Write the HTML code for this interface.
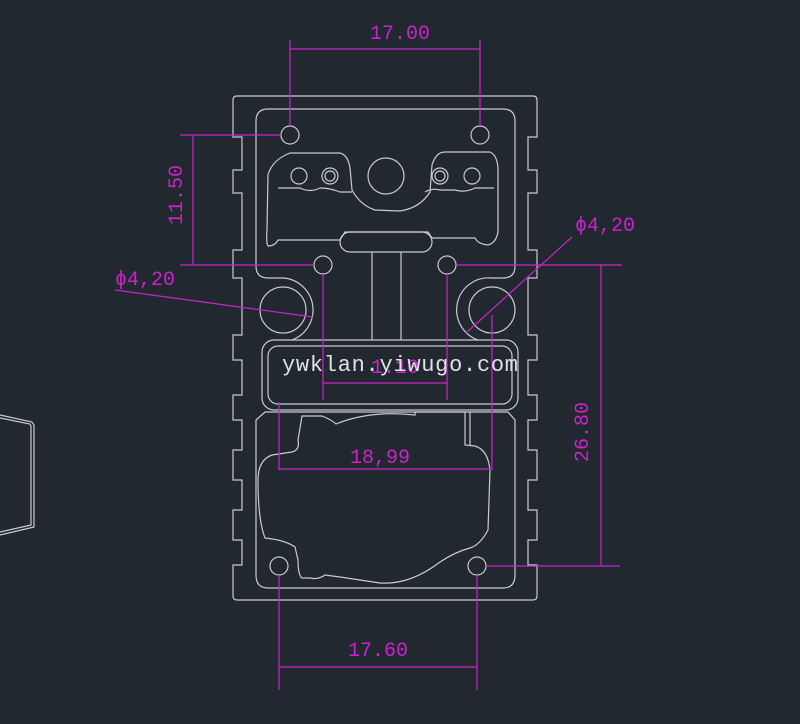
<!DOCTYPE html>
<html><head><meta charset="utf-8"><style>
html,body{margin:0;padding:0;background:#212830;}
svg{display:block}
text{font-family:"Liberation Mono","DejaVu Sans Mono",monospace;}
</style></head><body>
<svg width="800" height="724" viewBox="0 0 800 724" xmlns="http://www.w3.org/2000/svg">
<rect width="800" height="724" fill="#212830"/>
<g fill="none" stroke="#c8ccd0" stroke-width="1.2">
<path d="M0 415 L32 422 L34 425 L34 527 L0 535"/>
<path d="M0 418 L30 424 L31 426 L31 525 L0 532"/>
<path d="M237 96 L533 96 Q537 96 537 100 L537 137 L528 137 L528 170 L537 170 L537 193 L528 193 L528 250 L537 250 L537 278 L528 278 L528 335 L537 335 L537 360 L528 360 L528 395 L537 395 L537 420 L528 420 L528 450 L537 450 L537 480 L528 480 L528 510 L537 510 L537 540 L528 540 L528 565 L537 565 L537 596 Q537 600 533 600 L237 600 Q233 600 233 596 L233 565 L242 565 L242 540 L233 540 L233 510 L242 510 L242 480 L233 480 L233 450 L242 450 L242 420 L233 420 L233 395 L242 395 L242 360 L233 360 L233 335 L242 335 L242 278 L233 278 L233 250 L242 250 L242 193 L233 193 L233 170 L242 170 L242 137 L233 137 L233 100 Q233 96 237 96 Z"/>
<path d="M268 109 L503 109 Q515 109 515 121 L515 266 Q515 278 503 278 L492 278 A32 32 0 0 0 478 340 M292 340 A32 32 0 0 0 283 278 L268 278 Q256 278 256 266 L256 121 Q256 109 268 109"/>
<circle cx="290" cy="135" r="9"/><circle cx="480" cy="135" r="9"/>
<circle cx="323" cy="265" r="9"/><circle cx="447" cy="265" r="9"/>
<circle cx="279" cy="566" r="9"/><circle cx="477" cy="566" r="9"/>
<circle cx="283" cy="310" r="23"/><circle cx="492" cy="310" r="23"/>
<path d="M290 153 L340 153 Q348 155 350 168 L352 190 Q360 205 375 210 L400 211 Q420 208 430 192 L432 165 Q436 152 445 152 L490 152 Q497 155 498 168 L498 232 Q496 243 488 245 Q478 244 475 238 L432 238 L428 232 L345 232 L340 240 L278 240 Q275 246 268 246 Q266 243 267 230 L268 175 Q272 160 290 153 Z"/>
<path d="M278 188 L300 188 Q310 193 320 188 Q330 188 340 192 L352 192"/>
<path d="M425 192 Q432 188 440 190 L455 190 Q465 193 475 188 L494 188"/>
<circle cx="386" cy="176" r="18"/>
<circle cx="299" cy="176" r="8"/><circle cx="330" cy="176" r="8"/><circle cx="330" cy="176" r="5"/>
<circle cx="440" cy="176" r="8"/><circle cx="440" cy="176" r="5"/><circle cx="472" cy="176" r="8"/>
<rect x="340" y="232" width="92" height="20" rx="10"/>
<line x1="372" y1="252" x2="372" y2="340"/><line x1="401" y1="252" x2="401" y2="340"/>
<rect x="262" y="340" width="256" height="70" rx="12"/>
<rect x="268" y="346" width="244" height="58" rx="10"/>
<path d="M265 412 L508 412 L515 420 L515 575 Q515 588 503 588 L268 588 Q256 588 256 575 L256 420 Z"/>
<path d="M302 416 L322 416 Q332 420 336 424 Q370 410 415 415 L415 412 L465 412 L465 445 L475 446 Q488 450 490 470 L488 530 Q480 545 470 548 Q455 552 440 562 Q410 585 380 583 L340 577 L325 575 Q318 580 310 578 L302 578 Q298 575 298 560 L295 547 Q285 540 265 538 Q258 520 258 480 Q258 460 272 455 L292 452 Q300 450 298 440 Z"/>
<path d="M470 412 L470 445"/>
</g>
<g stroke="#cc22cc" stroke-width="1.2" fill="#cc22cc">
<line x1="290" y1="40" x2="290" y2="126" /><line x1="480" y1="40" x2="480" y2="126"/>
<line x1="290" y1="49" x2="480" y2="49"/>
<line x1="180" y1="135" x2="281" y2="135"/><line x1="180" y1="265" x2="314" y2="265"/>
<line x1="193" y1="135" x2="193" y2="265"/>
<line x1="456" y1="265" x2="622" y2="265"/>
<line x1="486" y1="566" x2="620" y2="566"/>
<line x1="601" y1="265" x2="601" y2="566"/>
<line x1="323" y1="274" x2="323" y2="400"/><line x1="447" y1="274" x2="447" y2="400"/>
<line x1="323" y1="383" x2="447" y2="383"/>
<line x1="279" y1="402" x2="279" y2="470"/><line x1="492" y1="315" x2="492" y2="470"/>
<line x1="279" y1="469" x2="492" y2="469"/>
<line x1="279" y1="575" x2="279" y2="690"/><line x1="477" y1="575" x2="477" y2="690"/>
<line x1="279" y1="667" x2="477" y2="667"/>
<line x1="115" y1="290" x2="313" y2="317"/>
<line x1="466" y1="333" x2="572" y2="237"/>
<text x="400" y="39" font-size="20" text-anchor="middle" stroke="none">17.00</text>
<text x="0" y="0" font-size="20" text-anchor="middle" stroke="none" transform="translate(182,195) rotate(-90)">11.50</text>
<text x="145" y="285" font-size="20" text-anchor="middle" stroke="none">ϕ4,20</text>
<text x="605" y="231" font-size="20" text-anchor="middle" stroke="none">ϕ4,20</text>
<text x="0" y="0" font-size="20" text-anchor="middle" stroke="none" transform="translate(588,432) rotate(-90)">26.80</text>
<text x="380" y="463" font-size="20" text-anchor="middle" stroke="none">18,99</text>
<text x="378" y="656" font-size="20" text-anchor="middle" stroke="none">17.60</text>
<text x="395" y="373" font-size="20" text-anchor="middle" stroke="none">1.10</text>
</g>
<text x="400" y="371" font-size="22" text-anchor="middle" fill="#dfe2e4" textLength="236">ywklan.yiwugo.com</text>
</svg>
</body></html>
